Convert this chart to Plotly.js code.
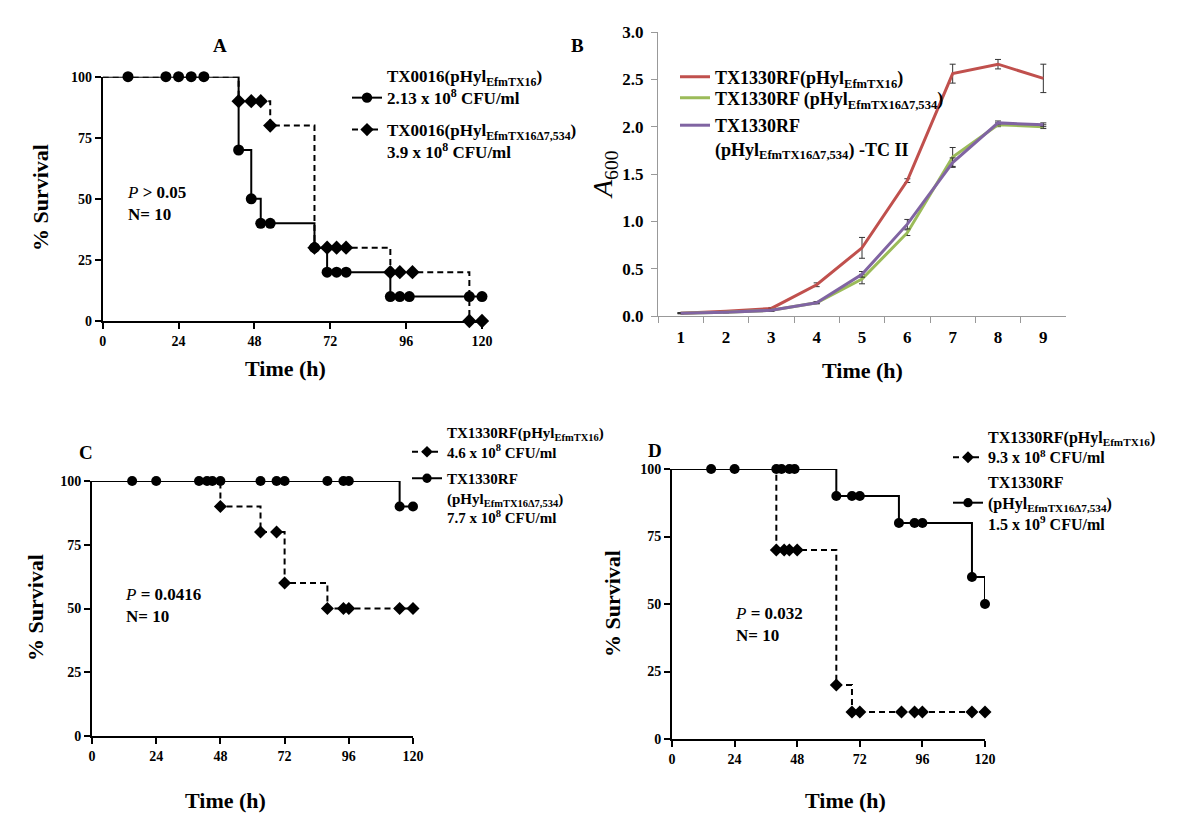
<!DOCTYPE html>
<html>
<head>
<meta charset="utf-8">
<script src="https://cdn.plot.ly/plotly-3.0.1.min.js"></script>
<style>html,body{margin:0;padding:0;background:#fff;}#chart{width:1200px;height:826px;}</style>
</head>
<body>
<div id="chart"></div>
<script>
// ---------- Panel A: survival, TX0016 ----------
var aSolidTime = [0, 8, 20, 24, 28, 32, 43, 47, 50, 53, 67, 71, 74, 77, 91, 94, 97, 116, 120];
var aSolidSurv = [100, 100, 100, 100, 100, 100, 70, 50, 40, 40, 30, 20, 20, 20, 10, 10, 10, 10, 10];
var aDashTime = [0, 43, 47, 50, 53, 67, 71, 74, 77, 91, 94, 98, 116, 120];
var aDashSurv = [100, 90, 90, 90, 80, 30, 30, 30, 30, 20, 20, 20, 0, 0];

// ---------- Panel B: growth curves ----------
var bHours = ['1', '2', '3', '4', '5', '6', '7', '8', '9'];
var bRed = [0.03, 0.05, 0.08, 0.33, 0.72, 1.43, 2.56, 2.66, 2.51];
var bRedErr = [0.005, 0.005, 0.01, 0.02, 0.11, 0.02, 0.10, 0.05, 0.15];
var bGreen = [0.03, 0.04, 0.06, 0.14, 0.39, 0.88, 1.68, 2.02, 2.00];
var bGreenErr = [0.005, 0.005, 0.01, 0.01, 0.05, 0.03, 0.10, 0.02, 0.02];
var bPurple = [0.03, 0.04, 0.06, 0.14, 0.44, 0.97, 1.62, 2.04, 2.02];
var bPurpleErr = [0.005, 0.005, 0.01, 0.01, 0.03, 0.05, 0.05, 0.02, 0.02];

// ---------- Panel C: survival, TX1330RF ----------
var cSolidTime = [0, 15, 24, 40, 43, 45, 48, 63, 69, 72, 88, 94, 96, 115, 120];
var cSolidSurv = [100, 100, 100, 100, 100, 100, 100, 100, 100, 100, 100, 100, 100, 90, 90];
var cDashTime = [0, 48, 63, 69, 72, 88, 94, 96, 115, 120];
var cDashSurv = [100, 90, 80, 80, 60, 50, 50, 50, 50, 50];

// ---------- Panel D: survival, TX1330RF ----------
var dSolidTime = [0, 15, 24, 40, 42, 45, 47, 63, 69, 72, 87, 93, 96, 115, 120];
var dSolidSurv = [100, 100, 100, 100, 100, 100, 100, 90, 90, 90, 80, 80, 80, 60, 50];
var dDashTime = [0, 40, 43, 45, 48, 63, 69, 72, 88, 93, 96, 115, 120];
var dDashSurv = [100, 70, 70, 70, 70, 20, 10, 10, 10, 10, 10, 10, 10];

var timeTicks = [0, 24, 48, 72, 96, 120];
var survTicks = [0, 25, 50, 75, 100];

var F = 'Liberation Serif, Times New Roman, serif';
var W = 1200, H = 826;
function X(px) { return px / W; }
function Y(py) { return 1 - py / H; }

function sizes(arr, s) { return arr.map(function (v, i) { return i === 0 ? 0 : s; }); }

function km(t, s, sym, dash, xa, ya, name, leg, msize) {
  return {
    x: t, y: s, xaxis: xa, yaxis: ya, name: name, legend: leg,
    type: 'scatter', mode: 'lines+markers', cliponaxis: false,
    line: { shape: 'hv', color: '#000', width: 2, dash: dash },
    marker: { symbol: sym, color: '#000', opacity: 1, size: sizes(t, msize), line: { width: 0 } },
    hoverinfo: 'x+y'
  };
}
function growth(y, err, color, name, leg) {
  return {
    x: bHours, y: y, xaxis: 'x2', yaxis: 'y2', name: name, legend: leg,
    type: 'scatter', mode: 'lines', cliponaxis: false,
    line: { color: color, width: 3 },
    error_y: { type: 'data', array: err, visible: true, color: '#333', thickness: 1, width: 3 }
  };
}

var sub = function (s) { return '<sub>' + s + '</sub>'; };
var traces = [
  km(aSolidTime, aSolidSurv, 'circle', 'solid', 'x', 'y',
     '<b>TX0016(pHyl' + sub('EfmTX16') + ')<br>2.13 x 10<sup>8</sup> CFU/ml</b>', 'legend', 11),
  km(aDashTime, aDashSurv, 'diamond', '6px,4px', 'x', 'y',
     '<b>TX0016(pHyl' + sub('EfmTX16Δ7,534') + ')<br>3.9 x 10<sup>8</sup> CFU/ml</b>', 'legend2', 11),
  growth(bRed, bRedErr, '#C0504D', '<b>TX1330RF(pHyl' + sub('EfmTX16') + ')</b>', 'legend3'),
  growth(bGreen, bGreenErr, '#9BBB59', '<b>TX1330RF (pHyl' + sub('EfmTX16Δ7,534') + ')</b>', 'legend4'),
  growth(bPurple, bPurpleErr, '#8064A2', '<b>TX1330RF<br>(pHyl' + sub('EfmTX16Δ7,534') + ') -TC II</b>', 'legend5'),
  km(cSolidTime, cSolidSurv, 'circle', 'solid', 'x3', 'y3',
     '<b>TX1330RF<br>(pHyl' + sub('EfmTX16Δ7,534') + ')<br>7.7 x 10<sup>8</sup> CFU/ml</b>', 'legend7', 10),
  km(cDashTime, cDashSurv, 'diamond', '6px,4px', 'x3', 'y3',
     '<b>TX1330RF(pHyl' + sub('EfmTX16') + ')<br>4.6 x 10<sup>8</sup> CFU/ml</b>', 'legend6', 10),
  km(dSolidTime, dSolidSurv, 'circle', 'solid', 'x4', 'y4',
     '<b>TX1330RF<br>(pHyl' + sub('EfmTX16Δ7,534') + ')<br>1.5 x 10<sup>9</sup> CFU/ml</b>', 'legend9', 10),
  km(dDashTime, dDashSurv, 'diamond', '6px,4px', 'x4', 'y4',
     '<b>TX1330RF(pHyl' + sub('EfmTX16') + ')<br>9.3 x 10<sup>8</sup> CFU/ml</b>', 'legend8', 10)
];

function survX(d0, d1, anchor) {
  return {
    domain: [X(d0), X(d1)], anchor: anchor, range: [0, 120], tickvals: timeTicks,
    showline: true, linecolor: '#000', linewidth: 2, ticks: 'outside', ticklen: 6, tickwidth: 2, tickcolor: '#000',
    showgrid: false, zeroline: false, tickfont: { family: F, size: 14, color: '#000', weight: 'bold' }
  };
}
function survY(top, bot, anchor) {
  return {
    domain: [Y(bot), Y(top)], anchor: anchor, range: [0, 100], tickvals: survTicks,
    showline: true, linecolor: '#000', linewidth: 2, ticks: 'outside', ticklen: 6, tickwidth: 2, tickcolor: '#000',
    showgrid: false, zeroline: false, tickfont: { family: F, size: 14, color: '#000', weight: 'bold' }
  };
}
function leg(xpx, ypx, size, valign) {
  return {
    x: X(xpx), y: Y(ypx), xanchor: 'left', yanchor: 'middle', valign: valign,
    bgcolor: 'rgba(0,0,0,0)', borderwidth: 0, itemclick: false, itemdoubleclick: false,
    font: { family: F, size: size, color: '#000' }
  };
}

function ann(xpx, ypx, text, size, opts) {
  var a = {
    x: X(xpx), y: Y(ypx), xref: 'paper', yref: 'paper', text: text, showarrow: false,
    font: { family: F, size: size, color: '#000' }, xanchor: 'center', yanchor: 'middle'
  };
  for (var k in (opts || {})) a[k] = opts[k];
  return a;
}

var layout = {
  width: W, height: H, margin: { l: 0, r: 0, t: 0, b: 0 },
  paper_bgcolor: '#fff', plot_bgcolor: 'rgba(0,0,0,0)',
  xaxis: survX(102.7, 482, 'y'),
  yaxis: survY(76.7, 321, 'x'),
  xaxis2: {
    type: 'category', domain: [X(658), X(1066)], anchor: 'y2', range: [-0.5, 8.5], tickson: 'boundaries',
    showline: true, linecolor: '#999', linewidth: 1, ticks: 'outside', ticklen: 6, tickcolor: '#999',
    showgrid: false, zeroline: false, ticklabelstandoff: 6,
    tickfont: { family: F, size: 17, color: '#000', weight: 'bold' }
  },
  yaxis2: {
    domain: [Y(316), Y(32)], anchor: 'x2', range: [0, 3], dtick: 0.5, tickformat: '.1f',
    showline: true, linecolor: '#999', linewidth: 1, ticks: 'outside', ticklen: 6, tickcolor: '#999',
    showgrid: false, zeroline: false, ticklabelstandoff: 4,
    tickfont: { family: F, size: 17, color: '#000', weight: 'bold' }
  },
  xaxis3: survX(92, 413, 'y3'),
  yaxis3: survY(481, 736, 'x3'),
  xaxis4: survX(672, 985, 'y4'),
  yaxis4: survY(469, 739, 'x4'),
  showlegend: true,
  legend: leg(347, 87, 17, 'bottom'),
  legend2: leg(347, 141, 17, 'top'),
  legend3: leg(675, 77, 18, 'middle'),
  legend4: leg(675, 98, 18, 'middle'),
  legend5: leg(675, 137, 18, 'top'),
  legend6: leg(407, 442, 15, 'bottom'),
  legend7: leg(407, 498, 15, 'top'),
  legend8: leg(948, 447, 16, 'bottom'),
  legend9: leg(948, 503, 16, 'middle'),
  annotations: [
    ann(220, 45, '<b>A</b>', 19),
    ann(577, 45, '<b>B</b>', 19),
    ann(86, 452, '<b>C</b>', 19),
    ann(655, 450, '<b>D</b>', 19),
    ann(40, 198, '<b>% Survival</b>', 22, { textangle: -90 }),
    ann(35, 608, '<b>% Survival</b>', 22, { textangle: -90 }),
    ann(612, 604, '<b>% Survival</b>', 22, { textangle: -90 }),
    ann(604, 175, '<i>A</i><sub>600</sub>', 28, { textangle: -90 }),
    ann(285, 368, '<b>Time (h)</b>', 22),
    ann(862, 370, '<b>Time (h)</b>', 22),
    ann(225, 800, '<b>Time (h)</b>', 22),
    ann(845, 800, '<b>Time (h)</b>', 22),
    ann(125, 203, '<i>P</i> <b>> 0.05</b><br><b>N= 10</b>', 17, { xanchor: 'left', align: 'left' }),
    ann(123, 605, '<i>P</i> <b>= 0.0416</b><br><b>N= 10</b>', 17, { xanchor: 'left', align: 'left' }),
    ann(733, 624, '<i>P</i> <b>= 0.032</b><br><b>N= 10</b>', 17, { xanchor: 'left', align: 'left' })
  ]
};

Plotly.newPlot('chart', traces, layout, { displayModeBar: false, staticPlot: true });
</script>
</body>
</html>
